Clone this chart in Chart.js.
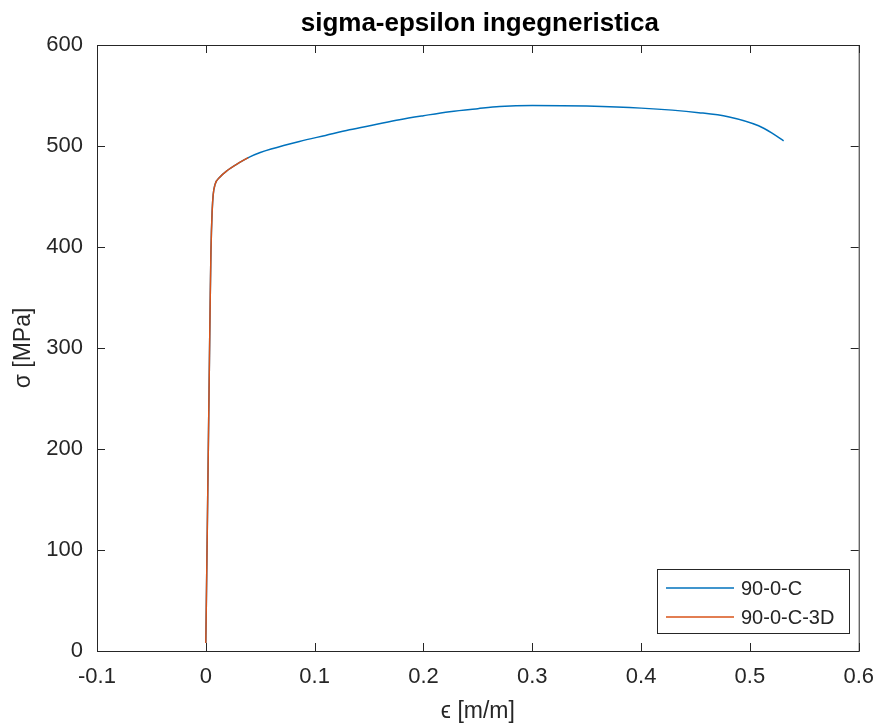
<!DOCTYPE html>
<html>
<head>
<meta charset="utf-8">
<script src="https://cdn.jsdelivr.net/npm/chart.js@4.4.0/dist/chart.umd.min.js"></script>
<style>
  html, body { margin: 0; padding: 0; background: #fff; }
  #wrap { width: 887px; height: 727px; }
</style>
</head>
<body>
<div id="wrap"><canvas id="sigmaChart" width="887" height="727"></canvas></div>
<script>
// deformazione [m/m] e tensione [MPa]
const epsC = [0, 0.001, 0.002, 0.003, 0.004, 0.0047, 0.0058, 0.0068, 0.0085, 0.0128, 0.02, 0.03, 0.04, 0.05, 0.06, 0.086, 0.11, 0.132, 0.155, 0.178, 0.2, 0.224, 0.25, 0.27, 0.3, 0.35, 0.4, 0.453, 0.48, 0.508, 0.52, 0.531];
const sigC = [8, 90, 175, 260, 345, 395, 435, 452, 462, 469, 476, 483, 489, 493.5, 497, 504.5, 510.5, 516, 521, 526, 530, 534, 537, 539, 540, 539.5, 537.5, 533, 529, 520, 513, 505];

const eps3D = [0, 0.001, 0.002, 0.003, 0.004, 0.0047, 0.0058, 0.0068, 0.0085, 0.0128, 0.02, 0.03, 0.039];
const sig3D = [8, 90, 175, 260, 345, 395, 435, 452, 462, 469, 476, 483, 488.5];

const xTicks = [-0.1, 0, 0.1, 0.2, 0.3, 0.4, 0.5, 0.6];
const yTicks = [0, 100, 200, 300, 400, 500, 600];

const titolo = 'sigma-epsilon ingegneristica';

function punti(xs, ys) {
  return xs.map((x, i) => ({ x: x, y: ys[i] }));
}

const axisColor = '#262626';
const fontFam = '"Liberation Sans", Arial, Helvetica, sans-serif';

// riquadro stile MATLAB: titolo, bordo, tacche interne e legenda
const boxPlugin = {
  id: 'boxPlugin',
  afterDraw(chart) {
    const ctx = chart.ctx;
    const a = chart.chartArea;
    const xs = chart.scales.x, ys = chart.scales.y;
    ctx.save();

    // titolo centrato sugli assi
    ctx.fillStyle = '#000';
    ctx.font = 'bold 26px ' + fontFam;
    ctx.textAlign = 'center';
    ctx.textBaseline = 'middle';
    ctx.fillText(titolo, (a.left + a.right) / 2 + 2, 24);
    ctx.textAlign = 'left';

    ctx.strokeStyle = axisColor;
    ctx.lineWidth = 1;
    ctx.strokeRect(a.left + 0.5, a.top + 0.5, a.right - a.left, a.bottom - a.top);
    const tl = 8;
    ctx.beginPath();
    xTicks.forEach(v => {
      const px = Math.round(xs.getPixelForValue(v)) + 0.5;
      ctx.moveTo(px, a.bottom); ctx.lineTo(px, a.bottom - tl);
      ctx.moveTo(px, a.top); ctx.lineTo(px, a.top + tl);
    });
    yTicks.forEach(v => {
      const py = Math.round(ys.getPixelForValue(v)) + 0.5;
      ctx.moveTo(a.left, py); ctx.lineTo(a.left + tl, py);
      ctx.moveTo(a.right, py); ctx.lineTo(a.right - tl, py);
    });
    ctx.stroke();

    // legenda
    const lx = 657, ly = 569, lw = 192, lh = 64;
    ctx.fillStyle = '#fff';
    ctx.fillRect(lx, ly, lw, lh);
    ctx.strokeStyle = axisColor;
    ctx.strokeRect(lx + 0.5, ly + 0.5, lw, lh);
    ctx.font = '20px ' + fontFam;
    chart.data.datasets.forEach((ds, i) => {
      const yy = ly + 19 + i * 29;
      ctx.strokeStyle = ds.borderColor;
      ctx.lineWidth = 1.5;
      ctx.beginPath();
      ctx.moveTo(666, yy); ctx.lineTo(734, yy);
      ctx.stroke();
      ctx.fillStyle = axisColor;
      ctx.fillText(ds.label, 741, yy + 1);
    });
    ctx.restore();
  }
};

new Chart(document.getElementById('sigmaChart'), {
  type: 'scatter',
  data: {
    datasets: [{
      label: '90-0-C',
      data: punti(epsC, sigC),
      borderColor: '#0072BD',
      backgroundColor: '#0072BD',
      showLine: true,
      pointRadius: 0,
      borderWidth: 1.5,
      cubicInterpolationMode: 'monotone',
      order: 2
    }, {
      label: '90-0-C-3D',
      data: punti(eps3D, sig3D),
      borderColor: '#D95319',
      backgroundColor: '#D95319',
      showLine: true,
      pointRadius: 0,
      borderWidth: 1.5,
      cubicInterpolationMode: 'monotone',
      order: 1
    }]
  },
  options: {
    responsive: false,
    animation: false,
    layout: { padding: { left: 0, right: 26, top: 45, bottom: 0 } },
    plugins: {
      legend: { display: false },
      tooltip: { enabled: false },
      title: { display: false }
    },
    scales: {
      x: {
        type: 'linear',
        min: -0.1,
        max: 0.6,
        afterBuildTicks: s => { s.ticks = xTicks.map(v => ({ value: v })); },
        afterFit: s => { s.height = 76; },
        grid: { display: false, drawTicks: false },
        border: { display: false },
        ticks: {
          color: axisColor,
          padding: 13,
          font: { family: fontFam, size: 22 },
          callback: v => String(Math.round(v * 10) / 10)
        },
        title: {
          display: true,
          text: 'ϵ [m/m]',
          color: axisColor,
          font: { family: fontFam, size: 23 },
          padding: { top: 2, bottom: 2 }
        }
      },
      y: {
        min: 0,
        max: 600,
        afterBuildTicks: s => { s.ticks = yTicks.map(v => ({ value: v })); },
        afterFit: s => { s.width = 97; },
        grid: { display: false, drawTicks: false },
        border: { display: false },
        ticks: {
          color: axisColor,
          padding: 14,
          font: { family: fontFam, size: 22 }
        },
        title: {
          display: true,
          text: 'σ [MPa]',
          color: axisColor,
          font: { family: fontFam, size: 23 },
          padding: { top: 10, bottom: 0 }
        }
      }
    }
  },
  plugins: [boxPlugin]
});
</script>
</body>
</html>
